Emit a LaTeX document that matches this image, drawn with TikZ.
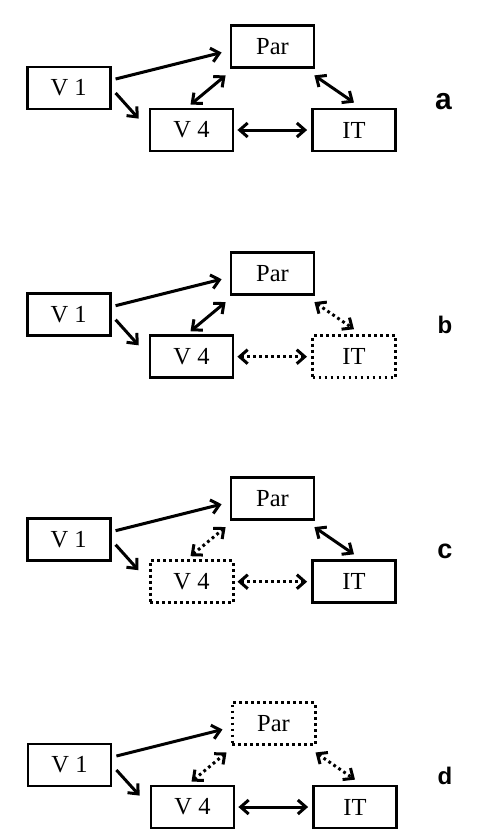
\documentclass[tikz,border=0pt]{standalone}
\usepackage{fontspec}
\setmainfont{Liberation Serif}
\newfontfamily\lblfont{Liberation Sans}
\usetikzlibrary{arrows.meta,calc}
\begin{document}
\begin{tikzpicture}[x=1pt,y=-1pt,
  box/.style={draw, line width=2.8pt, minimum width=83pt, minimum height=42pt, inner sep=0pt,
    font=\fontsize{24.5}{24.5}\selectfont},
  dbox/.style={box, line width=3pt, dash pattern=on 2.8pt off 3.2pt},
  arr/.style={line width=3pt, -{Straight Barb[length=8pt,width=14pt]}},
  barr/.style={line width=3pt, {Straight Barb[length=8pt,width=14pt]}-{Straight Barb[length=8pt,width=14pt]}},
  dbarr/.style={barr, dash pattern=on 2.8pt off 3.2pt},
  lbl/.style={anchor=base, inner sep=0pt}]
\useasboundingbox (0,0) rectangle (478,839);

% ---------- panel a ----------
\begin{scope}[shift={(0,0)}]
\node[box] (v1a) at (68.7,88) {V 1};
\node[box] (para) at (272.5,46.5) {Par};
\node[box] (v4a) at (191.5,130) {V 4};
\node[box] (ita) at (354,130) {IT};
\draw[arr] ([shift={(4,-9)}]v1a.east) -- ([shift={(-8,6)}]para.west);
\draw[arr] ([shift={(4,5)}]v1a.east) -- ([shift={(-10,11)}]v4a.north west);
\draw[barr] ([shift={(-1,-3)}]v4a.north) -- ([shift={(-4,6.5)}]para.south west);
\draw[barr] ([shift={(-1,6.5)}]para.south east) -- ([shift={(0,-5)}]ita.north);
\draw[barr] ([shift={(3,0)}]v4a.east) -- ([shift={(-4,0)}]ita.west);
\node[lbl, font=\lblfont\bfseries\fontsize{30}{30}\selectfont] (la) at (443.5,109) {a};
\end{scope}

% ---------- panel b ----------
\begin{scope}[shift={(0,226.7)}]
\node[box] (v1b) at (68.7,88) {V 1};
\node[box] (parb) at (272.5,46.5) {Par};
\node[box] (v4b) at (191.5,130) {V 4};
\node[dbox] (itb) at (354,130) {IT};
\draw[arr] ([shift={(4,-9)}]v1b.east) -- ([shift={(-8,6)}]parb.west);
\draw[arr] ([shift={(4,5)}]v1b.east) -- ([shift={(-10,11)}]v4b.north west);
\draw[barr] ([shift={(-1,-3)}]v4b.north) -- ([shift={(-4,6.5)}]parb.south west);
\draw[dbarr] ([shift={(-1,6.5)}]parb.south east) -- ([shift={(0,-5)}]itb.north);
\draw[dbarr] ([shift={(3,0)}]v4b.east) -- ([shift={(-4,0)}]itb.west);
\node[lbl, font=\lblfont\bfseries\fontsize{24}{24}\selectfont] (lb) at (445,106.8) {b};
\end{scope}

% ---------- panel c ----------
\begin{scope}[shift={(0,451.7)}]
\node[box] (v1c) at (68.7,88) {V 1};
\node[box] (parc) at (272.5,46.5) {Par};
\node[dbox] (v4c) at (191.5,130) {V 4};
\node[box] (itc) at (354,130) {IT};
\draw[arr] ([shift={(4,-9)}]v1c.east) -- ([shift={(-8,6)}]parc.west);
\draw[arr] ([shift={(4,5)}]v1c.east) -- ([shift={(-10,11)}]v4c.north west);
\draw[dbarr] ([shift={(-1,-3)}]v4c.north) -- ([shift={(-4,6.5)}]parc.south west);
\draw[barr] ([shift={(-1,6.5)}]parc.south east) -- ([shift={(0,-5)}]itc.north);
\draw[dbarr] ([shift={(3,0)}]v4c.east) -- ([shift={(-4,0)}]itc.west);
\node[lbl, font=\lblfont\bfseries\fontsize{27}{27}\selectfont] (lc) at (445,106.3) {c};
\end{scope}

% ---------- panel d ----------
\begin{scope}[shift={(0,677)}]
\node[box] (v1d) at (69.5,88) {V 1};
\node[dbox] (pard) at (273.5,46.5) {Par};
\node[box] (v4d) at (192.5,130) {V 4};
\node[box] (itd) at (355,130) {IT};
\draw[arr] ([shift={(4,-9)}]v1d.east) -- ([shift={(-8,6)}]pard.west);
\draw[arr] ([shift={(4,5)}]v1d.east) -- ([shift={(-10,11)}]v4d.north west);
\draw[dbarr] ([shift={(-1,-3)}]v4d.north) -- ([shift={(-4,6.5)}]pard.south west);
\draw[dbarr] ([shift={(-1,6.5)}]pard.south east) -- ([shift={(0,-5)}]itd.north);
\draw[barr] ([shift={(3,0)}]v4d.east) -- ([shift={(-4,0)}]itd.west);
\node[lbl, font=\lblfont\bfseries\fontsize{24}{24}\selectfont] (ld) at (445,107) {d};
\end{scope}
\end{tikzpicture}
\end{document}
